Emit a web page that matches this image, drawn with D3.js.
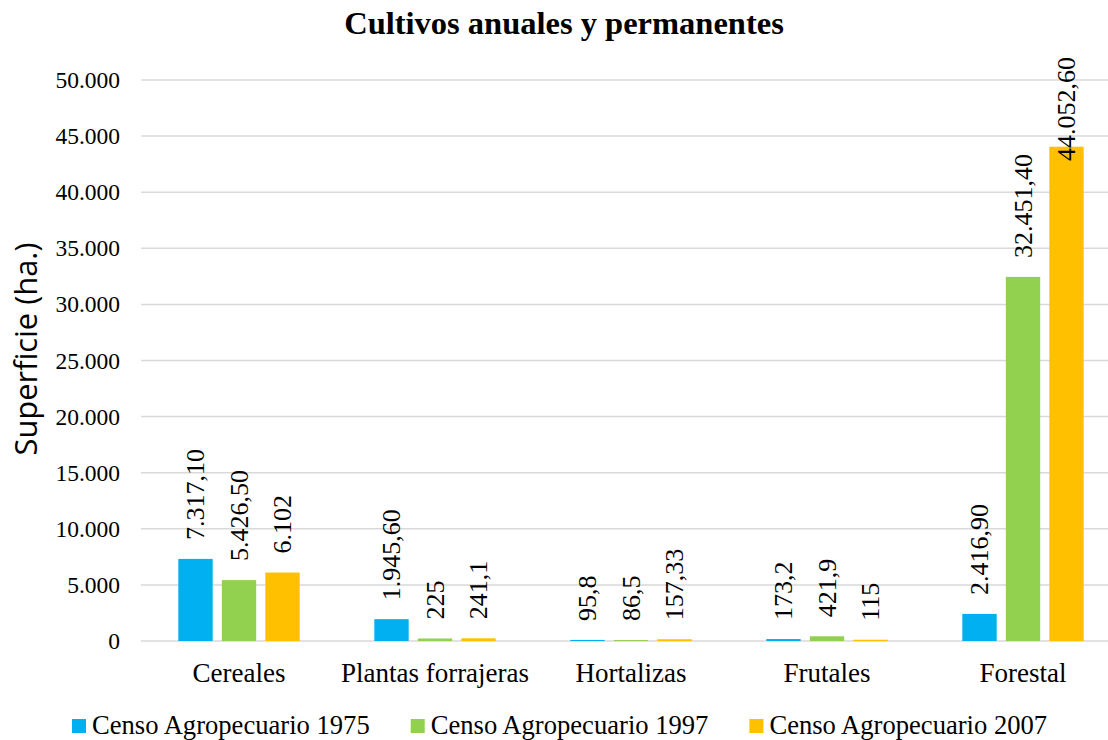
<!DOCTYPE html>
<html>
<head>
<meta charset="utf-8">
<script src="https://cdn.jsdelivr.net/npm/d3@7"></script>
<style>
  html, body { margin: 0; padding: 0; background: #fff; }
  svg { display: block; }
</style>
</head>
<body>
<svg id="chart" width="1108" height="740"></svg>
<script>
const categories = ["Cereales", "Plantas forrajeras", "Hortalizas", "Frutales", "Forestal"];
const seriesNames = ["Censo Agropecuario 1975", "Censo Agropecuario 1997", "Censo Agropecuario 2007"];
const values1975 = [7317.10, 1945.60, 95.8, 173.2, 2416.90];
const values1997 = [5426.50, 225, 86.5, 421.9, 32451.40];
const values2007 = [6102, 241.1, 157.33, 115, 44052.60];
const labels1975 = ["7.317,10", "1.945,60", "95,8", "173,2", "2.416,90"];
const labels1997 = ["5.426,50", "225", "86,5", "421,9", "32.451,40"];
const labels2007 = ["6.102", "241,1", "157,33", "115", "44.052,60"];
const yTicks = [0, 5000, 10000, 15000, 20000, 25000, 30000, 35000, 40000, 45000, 50000];
const yTickLabels = ["0", "5.000", "10.000", "15.000", "20.000", "25.000", "30.000", "35.000", "40.000", "45.000", "50.000"];
const colors = ["#00B0F0", "#92D050", "#FFC000"];

const seriesValues = [values1975, values1997, values2007];
const seriesLabels = [labels1975, labels1997, labels2007];

const svg = d3.select("#chart");
const plotLeft = 141, plotRight = 1121, plotTop = 80, plotBottom = 641;

const x0 = d3.scaleBand().domain(categories).range([plotLeft, plotRight]).padding(0);
const x1 = d3.scaleBand().domain(d3.range(3)).range([0, x0.bandwidth()]).paddingInner(0.21).paddingOuter(0.858);
const y = d3.scaleLinear().domain([0, 50000]).range([plotBottom, plotTop]);

const serif = "'Liberation Serif', 'Times New Roman', serif";

// gridlines
svg.append("g").selectAll("line").data(yTicks).join("line")
  .attr("x1", plotLeft).attr("x2", plotRight)
  .attr("y1", d => y(d)).attr("y2", d => y(d))
  .attr("stroke", "#D9D9D9").attr("stroke-width", 1.5);

// y tick labels
svg.append("g").selectAll("text").data(yTicks).join("text")
  .attr("x", 120).attr("y", d => y(d))
  .attr("text-anchor", "end").attr("dominant-baseline", "central")
  .style("font-family", serif).style("font-size", "23.5px").attr("fill", "#000")
  .text((d, i) => yTickLabels[i]);

// bars
const groups = svg.append("g").selectAll("g").data(categories).join("g")
  .attr("transform", d => `translate(${x0(d)},0)`);

const cellData = (c, ci) => seriesValues.map((s, si) => ({ si, v: s[ci], label: seriesLabels[si][ci] }));

groups.selectAll("rect").data(cellData)
  .join("rect")
  .attr("x", d => x1(d.si)).attr("width", x1.bandwidth())
  .attr("y", d => y(d.v)).attr("height", d => y(0) - y(d.v))
  .attr("fill", d => colors[d.si]);

// value labels
groups.selectAll("text").data(cellData)
  .join("text")
  .attr("text-anchor", "start").attr("dominant-baseline", "central")
  .style("font-family", serif).style("font-size", "26px").attr("fill", "#000")
  .text(d => d.label)
  .each(function (d) {
    const len = this.getComputedTextLength();
    let start = y(d.v) - 19;
    if (start - len < 57) start = 57 + len;
    const cx = x1(d.si) + x1.bandwidth() / 2;
    d3.select(this).attr("transform", `translate(${cx},${start}) rotate(-90)`);
  });

// category labels
svg.append("g").selectAll("text").data(categories).join("text")
  .attr("x", d => x0(d) + x0.bandwidth() / 2).attr("y", 682)
  .attr("text-anchor", "middle")
  .style("font-family", serif).style("font-size", "27px").attr("fill", "#000")
  .text(d => d);

// title
svg.append("text").attr("x", 564).attr("y", 34).attr("text-anchor", "middle")
  .style("font-family", serif).style("font-size", "32.5px").style("font-weight", "bold")
  .text("Cultivos anuales y permanentes");

// y axis title
const yt = svg.append("text")
  .attr("transform", `translate(37,349) rotate(-90)`)
  .attr("text-anchor", "middle")
  .style("font-family", "'Open Sans', sans-serif").style("font-size", "100px")
  .text("Superficie (ha.)");
const ytLen = yt.node().getComputedTextLength();
yt.style("font-size", (100 * 213 / ytLen) + "px");

// legend
const legend = svg.append("g");
let lx = 72;
seriesNames.forEach((name, i) => {
  legend.append("rect").attr("x", lx).attr("y", 719).attr("width", 14).attr("height", 14).attr("fill", colors[i]);
  const t = legend.append("text").attr("x", lx + 20).attr("y", 734)
    .style("font-family", serif).style("font-size", "26.6px").text(name);
  lx += 20 + t.node().getComputedTextLength() + 41;
});
</script>
</body>
</html>
